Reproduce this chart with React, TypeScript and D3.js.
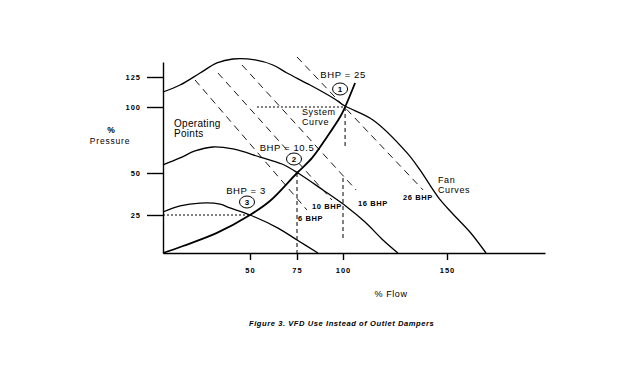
import React, { useRef, useEffect } from 'react';
import * as d3 from 'd3';

// Axis ticks (the original axes are not evenly spaced, so the scales are piecewise)
const flowTicks = [50, 75, 100, 150];
const pressureTicks = [25, 50, 100, 125];

// Fan curves at three speeds: [flow %, pressure %]
const fanCurveFull: [number, number][] = [
  [0, 112.5], [9.8, 118.3], [21.3, 128.3], [31, 136.7], [40.2, 140], [52.7, 139.2],
  [62.2, 135], [69.7, 128.3], [82.1, 118.3], [94.6, 107.5], [101, 100.8], [114.4, 90.2],
  [130.8, 65.2], [137, 52.3], [145.7, 35.7], [152.4, 26.2], [161, 13.8], [168.7, 0],
];
const fanCurveMid: [number, number][] = [
  [0, 56.1], [9.8, 61.4], [18.4, 66.7], [28.7, 69.7], [40.2, 68.2], [55.3, 62.1],
  [67, 56.8], [75.5, 50], [89.1, 39.9], [101.9, 29.8], [110.6, 20.4], [119.2, 8.6], [126.4, 0],
];
const fanCurveLow: [number, number][] = [
  [0, 26.8], [9.8, 30.4], [21.3, 32.1], [32.8, 31.5], [38.5, 29.2], [50, 25],
  [64.9, 16.4], [75, 8.6], [86.4, 0],
];
const systemCurve: [number, number][] = [
  [0, 0], [11.5, 4.6], [31, 13.2], [50, 25], [60.6, 33.3], [75, 50],
  [83.2, 61.4], [91.3, 77.3], [98.4, 92.4], [101, 100], [105.8, 120],
];

// Constant-horsepower lines: start and end [flow %, pressure %]
const bhpLineNames = ['6 BHP', '10 BHP', '16 BHP', '26 BHP'];
const bhpLineEnds: [number, number][][] = [
  [[18.4, 122.5], [80.4, 28]],
  [[31.6, 128.3], [94, 33.9]],
  [[45.4, 135], [106.3, 39.9]],
  [[75, 141.7], [138.5, 39.9]],
];

// Operating points
const opFlow = [101, 75, 50];
const opPressure = [100, 50, 25];
const opNames = ['1', '2', '3'];
const opBhp = ['BHP = 25', 'BHP = 10.5', 'BHP = 3'];

// Reference lines: [from, to, at]
const dottedLevels: [number, number, number][] = [[53.7, 101, 100], [0, 50, 25]];
const dashedDrops: [number, number, number][] = [[50, 0, 75], [100, 69.7, 101], [47, 8.6, 100]];

const W = 624;
const H = 372;
const font = '"Liberation Sans", Arial, sans-serif';

export default function App() {
  const xAxisRef = useRef<SVGGElement>(null);
  const yAxisRef = useRef<SVGGElement>(null);

  const x = d3.scaleLinear().domain([0, 50, 75, 100, 150, 197]).range([163, 250, 297, 343, 447, 545]);
  const y = d3.scaleLinear().domain([0, 25, 50, 100, 125, 137.5]).range([253, 215, 173, 107, 77, 62]);

  const line = d3.line<[number, number]>()
    .x(d => x(d[0]))
    .y(d => y(d[1]))
    .curve(d3.curveCatmullRom);

  useEffect(() => {
    if (!xAxisRef.current || !yAxisRef.current) return;
    const gx = d3.select(xAxisRef.current);
    gx.selectAll('*').remove();
    gx.call(d3.axisBottom(x).tickValues(flowTicks).tickSize(7).tickSizeOuter(0).tickPadding(8) as any);
    const gy = d3.select(yAxisRef.current);
    gy.selectAll('*').remove();
    gy.call(d3.axisLeft(y).tickValues(pressureTicks).tickSize(16).tickSizeOuter(0).tickPadding(6) as any);
    [gx, gy].forEach(g => {
      g.selectAll('path, line').attr('stroke', '#000').attr('stroke-width', 1.4);
      g.selectAll('text')
        .attr('fill', '#000')
        .style('font-family', font)
        .style('font-size', '7.5px')
        .style('font-weight', 'bold')
        .style('letter-spacing', '1px');
    });
  }, []);

  // label spots for the horsepower lines and callouts (pixel layout)
  const bhpLabelPos = [[298, 221], [312, 209], [358, 206], [403, 200]];
  const circleOffset = [[-5, -18], [-3, -14], [-3, -13]];
  const bhpTextOffset = [[-2, -29], [-10, -22], [-4, -21]];

  const txt = { fontFamily: font, fill: '#000' } as const;

  return (
    <svg width={W} height={H} style={{ position: 'absolute', left: 0, top: 0, background: '#fff' }}>
      <rect width={W} height={H} fill="#fff" />
      <g ref={xAxisRef} transform={`translate(0,${y(0)})`} />
      <g ref={yAxisRef} transform={`translate(${x(0)},0)`} />

      {/* constant horsepower lines */}
      {bhpLineEnds.map((pts, i) => (
        <path key={bhpLineNames[i]} d={line(pts) || ''} fill="none" stroke="#000"
          strokeWidth={0.9} strokeDasharray="7 5" />
      ))}

      {/* reference lines */}
      {dottedLevels.map(([a, b, p], i) => (
        <line key={'h' + i} x1={x(a)} x2={x(b)} y1={y(p)} y2={y(p)} stroke="#000"
          strokeWidth={1} strokeDasharray="2 2" />
      ))}
      {dashedDrops.map(([a, b, f], i) => (
        <line key={'v' + i} x1={x(f)} x2={x(f)} y1={y(a)} y2={y(b)} stroke="#000"
          strokeWidth={1} strokeDasharray="4 3" />
      ))}

      {/* fan curves and system curve */}
      {[fanCurveFull, fanCurveMid, fanCurveLow].map((c, i) => (
        <path key={'fan' + i} d={line(c) || ''} fill="none" stroke="#000" strokeWidth={1.3} />
      ))}
      <path d={line(systemCurve) || ''} fill="none" stroke="#000" strokeWidth={1.8} />

      {/* operating point callouts */}
      {opNames.map((n, i) => {
        const px = x(opFlow[i]);
        const py = y(opPressure[i]);
        const [cx, cy] = circleOffset[i];
        const [tx, ty] = bhpTextOffset[i];
        return (
          <g key={n}>
            <ellipse cx={px + cx} cy={py + cy} rx={7.5} ry={6} fill="#fff" stroke="#000" strokeWidth={1} />
            <text x={px + cx} y={py + cy + 3} textAnchor="middle" fontSize={8} fontWeight="bold" {...txt}>{n}</text>
            <text x={px + tx} y={py + ty} textAnchor="middle" fontSize={9.5} letterSpacing={0.6} {...txt}>{opBhp[i]}</text>
          </g>
        );
      })}

      {bhpLineNames.map((n, i) => (
        <text key={n} x={bhpLabelPos[i][0]} y={bhpLabelPos[i][1]} fontSize={7.5} fontWeight="bold"
          letterSpacing={0.6} {...txt}>{n}</text>
      ))}

      {/* annotations */}
      <text x={174} y={127} fontSize={10} letterSpacing={0.3} {...txt}>Operating</text>
      <text x={174} y={137} fontSize={10} letterSpacing={0.3} {...txt}>Points</text>
      <text x={302} y={115} fontSize={9} letterSpacing={0.6} {...txt}>System</text>
      <text x={302} y={125} fontSize={9} letterSpacing={0.6} {...txt}>Curve</text>
      <text x={438} y={183} fontSize={9} letterSpacing={0.6} {...txt}>Fan</text>
      <text x={438} y={193} fontSize={9} letterSpacing={0.6} {...txt}>Curves</text>

      {/* axis titles */}
      <text x={111} y={133} textAnchor="middle" fontSize={8.5} fontWeight="bold" {...txt}>%</text>
      <text x={110} y={144} textAnchor="middle" fontSize={8.5} letterSpacing={0.8} {...txt}>Pressure</text>
      <text x={391} y={297} textAnchor="middle" fontSize={9} letterSpacing={0.6} {...txt}>% Flow</text>

      <text x={249} y={326} fontSize={7.6} fontStyle="italic" fontWeight="bold" letterSpacing={0.55} {...txt}>
        Figure 3.  VFD Use Instead of Outlet Dampers
      </text>
    </svg>
  );
}
